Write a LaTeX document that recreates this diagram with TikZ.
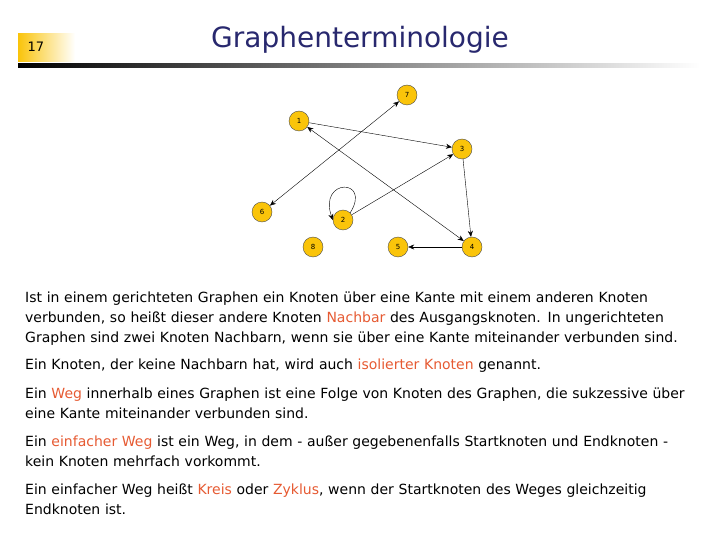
\documentclass[tikz,border=0pt]{standalone}
\usepackage{fontspec}
\setmainfont{DejaVu Sans}
\usetikzlibrary{arrows.meta}
\definecolor{nodey}{RGB}{250,196,10}
\definecolor{navy}{RGB}{40,40,110}
\definecolor{hl}{RGB}{230,90,50}
\newcommand{\hl}[1]{\textcolor{hl}{#1}}
\tikzset{
 vert/.style={circle,fill=nodey,draw=black!70,minimum size=20pt,inner sep=0pt,font=\fontsize{7}{8}\selectfont},
 edge/.style={-{Stealth[length=6pt,width=5pt]},thin},
 body/.style={anchor=north west,align=left,inner sep=0pt,font=\fontsize{14}{20}\selectfont,text width=690pt}
}
\begin{document}
\begin{tikzpicture}[x=1pt,y=-1pt]
\useasboundingbox (0,0) rectangle (720,540);
\shade[left color=nodey,right color=white] (18,34) rectangle (75,62);
\node[anchor=west,font=\fontsize{13}{14}\selectfont] (num) at (24,47) {17};
\node[font=\fontsize{28}{30}\selectfont,text=navy] (title) at (360,40) {Graphenterminologie};
\shade[left color=black,right color=white] (18,64) rectangle (700,68);
\node[vert] (n7) at (407,95) {7};
\node[vert] (n1) at (299,121) {1};
\node[vert] (n3) at (462,149) {3};
\node[vert] (n6) at (262,212) {6};
\node[vert] (n2) at (343,220) {2};
\node[vert] (n8) at (313,247) {8};
\node[vert] (n5) at (398,247) {5};
\node[vert] (n4) at (472,247) {4};
\draw[edge,{Stealth[length=6pt,width=5pt]}-{Stealth[length=6pt,width=5pt]}] (n6) -- (n7);
\draw[edge,{Stealth[length=6pt,width=5pt]}-{Stealth[length=6pt,width=5pt]}] (n1) -- (n4);
\draw[edge] (n1) -- (n3);
\draw[edge] (n2) -- (n3);
\draw[edge] (n3) -- (n4);
\draw[edge] (n4) -- (n5);
\draw[edge] (n2.north east) .. controls (372,178) and (318,178) .. (n2.west);
\node[body] (t1) at (25,292) {Ist in einem gerichteten Graphen ein Knoten über eine Kante mit einem anderen Knoten\\verbunden, so heißt dieser andere Knoten \hl{Nachbar} des Ausgangsknoten. In ungerichteten\\Graphen sind zwei Knoten Nachbarn, wenn sie über eine Kante miteinander verbunden sind.};
\node[body] (t2) at (25,359) {Ein Knoten, der keine Nachbarn hat, wird auch \hl{isolierter Knoten} genannt.};
\node[body] (t3) at (25,388) {Ein \hl{Weg} innerhalb eines Graphen ist eine Folge von Knoten des Graphen, die sukzessive über\\eine Kante miteinander verbunden sind.};
\node[body] (t4) at (25,436) {Ein \hl{einfacher Weg} ist ein Weg, in dem - außer gegebenenfalls Startknoten und Endknoten -\\kein Knoten mehrfach vorkommt.};
\node[body] (t5) at (25,484) {Ein einfacher Weg heißt \hl{Kreis} oder \hl{Zyklus}, wenn der Startknoten des Weges gleichzeitig\\Endknoten ist.};
\end{tikzpicture}
\end{document}
